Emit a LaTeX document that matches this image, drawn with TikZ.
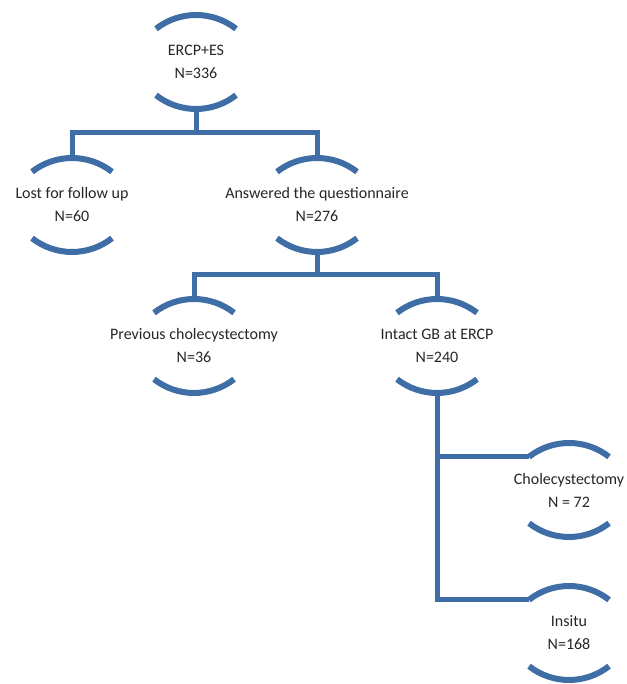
\documentclass[tikz,border=0pt]{standalone}
\usepackage{fontspec}
\setmainfont{Carlito}
\usepackage{tikz}
\definecolor{smartblue}{RGB}{62,110,165}

\begin{document}
\begin{tikzpicture}[x=1pt,y=1pt,
		every node/.style={minimum width=80pt,minimum height=94pt,inner sep=0pt,align=center,
			font=\fontsize{16}{23}\selectfont,text=black!85},
		link/.style={draw=smartblue,line width=5pt},
		rim/.style={draw=smartblue,line width=6pt}]
			\useasboundingbox (0,0) rectangle (626,684);

			\node (ercp) at (196,622) {ERCP+ES\\N=336};
			\node (lost) at (72,479) {Lost for follow up\\N=60};
			\node (answ) at (317,479) {Answered the questionnaire\\N=276};
			\node (prev) at (194,338) {Previous cholecystectomy\\N=36};
			\node (intact) at (437,338) {Intact GB at ERCP\\N=240};
			\node (chole) at (569,194) {Cholecystectomy\\N = 72};
			\node (insitu) at (569,51) {Insitu\\N=168};

			% the two arcs round each box
			\foreach \n in {ercp,lost,answ,prev,intact,chole,insitu} {
				\draw[rim] ([shift={(-40pt,-14pt)}]\n.north) arc[start angle=128,end angle=52,radius=65];
				\draw[rim] ([shift={(-40pt,14pt)}]\n.south) arc[start angle=232,end angle=308,radius=65];
			}

			\coordinate (j1) at (196,551);
			\coordinate (j2) at (317,409);
			\coordinate (cholein) at ([shift={(-40pt,-14pt)}]chole.north);
			\coordinate (insituin) at ([shift={(-40pt,-14pt)}]insitu.north);

			\draw[link] (ercp.south) -- (j1);
			\draw[link] (lost.north) |- (j1) -| (answ.north);

			\draw[link] (answ.south) -- (j2);
			\draw[link] (prev.north) |- (j2) -| (intact.north);

			\draw[link] (intact.south) |- (insituin);
			\draw[link] (intact.south) |- (cholein);
		\end{tikzpicture}
\end{document}
